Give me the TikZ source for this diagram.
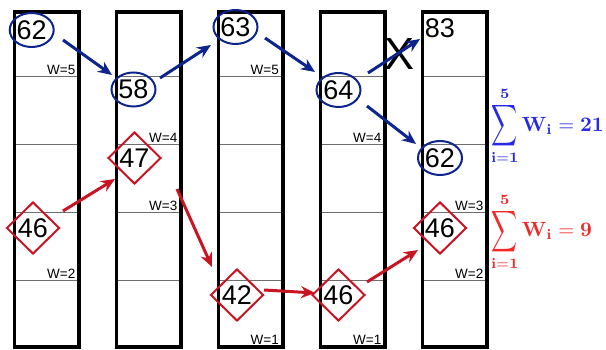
\documentclass[tikz,border=0pt]{standalone}
\usepackage[no-math]{fontspec}
\newfontfamily\arial{Liberation Sans}
\usetikzlibrary{shapes.geometric,arrows.meta,calc}
\definecolor{navy}{RGB}{12,36,140}
\definecolor{dred}{RGB}{200,20,35}
\definecolor{sumblue}{RGB}{40,40,230}
\definecolor{sumred}{RGB}{240,40,40}
\definecolor{sepgray}{RGB}{110,110,110}
\newcommand{\numfont}{\arial\fontsize{27}{30}\selectfont}
\newcommand{\tallsum}{\mathop{\vcenter{\hbox{\scalebox{0.88}[1.4]{$\displaystyle\sum$}}}}\limits}
\begin{document}
\begin{tikzpicture}[x=1pt,y=-1pt,
  colbox/.style={line width=3.5pt, draw=black},
  sepline/.style={line width=1pt, draw=sepgray},
  wlab/.style={font=\arial\fontsize{13.5}{14}\selectfont, anchor=south east, inner sep=0pt},
  bnode/.style={ellipse, draw=navy, line width=2pt, minimum width=44pt, minimum height=34pt, inner sep=0pt, font=\numfont},
  rnode/.style={diamond, aspect=1, draw=dred, line width=2pt, minimum width=53pt, minimum height=52pt, inner sep=0pt, font=\numfont},
  barrow/.style={draw=navy, line width=3pt, -{Stealth[length=14pt,width=12pt]}},
  rarrow/.style={draw=dred, line width=3pt, -{Stealth[length=14pt,width=12pt]}},
  plain/.style={inner sep=0pt, font=\numfont}
]
\useasboundingbox (0,0) rectangle (606,350);
% columns
\foreach \i in {0,...,4}{
  \pgfmathsetmacro{\xl}{14.5+102*\i}
  \pgfmathsetmacro{\xr}{\xl+64.5}
  \foreach \yy in {77,145,213,281}{
    \draw[sepline] (\xl+1.75,\yy) -- (\xr-1.75,\yy);
  }
  \draw[colbox] (\xl,12) rectangle (\xr,347);
}
% W labels
\node[wlab] (w15) at (75.5,75) {W=5};
\node[wlab] (w12) at (75.5,279) {W=2};
\node[wlab] (w24) at (177.5,143) {W=4};
\node[wlab] (w23) at (177.5,211) {W=3};
\node[wlab] (w35) at (279,75) {W=5};
\node[wlab] (w31) at (279,345) {W=1};
\node[wlab] (w44) at (381.5,143) {W=4};
\node[wlab] (w41) at (381.5,345) {W=1};
\node[wlab] (w53) at (483.5,211) {W=3};
\node[wlab] (w52) at (483.5,279) {W=2};
% nodes
\node[bnode] (e62a) at (31.7,30) {62};
\node[bnode] (e58) at (133.5,89.5) {58};
\node[bnode] (e63) at (235.5,27) {63};
\node[bnode] (e64) at (338.5,90) {64};
\node[bnode] (e62b) at (440,158) {62};
\node[rnode] (d46a) at (33,228) {46};
\node[rnode] (d47) at (134.5,158) {47};
\node[rnode] (d42) at (237,295) {42};
\node[rnode] (d46b) at (338.5,295) {46};
\node[rnode] (d46c) at (440,228) {46};
\node[plain] (t83) at (440,28) {83};
\node[inner sep=0pt, font=\arial\fontsize{45}{48}\selectfont] (xmark) at (400,54) {X};
% arrows
\draw[barrow] ($(e62a)+(31.3,10)$) -- ($(e58)+(-21.5,-14.5)$);
\draw[barrow] ($(e58)+(26.5,-11.5)$) -- ($(e63)+(-24.5,18)$);
\draw[barrow] ($(e63)+(29.5,11)$) -- ($(e64)+(-23.5,-18)$);
\draw[barrow] ($(e64)+(29.5,-17)$) -- ($(t83)+(-20,11)$);
\draw[barrow] ($(e64)+(28.5,16)$) -- ($(e62b)+(-24,-14)$);
\draw[rarrow] ($(d46a)+(30,-17)$) -- ($(d47)+(-19.5,21)$);
\draw[rarrow] ($(d47)+(42.5,31)$) -- ($(d42)+(-25,-28)$);
\draw[rarrow] ($(d42)+(27,-5)$) -- ($(d46b)+(-23.5,-2)$);
\draw[rarrow] ($(d46b)+(28.5,-13)$) -- ($(d46c)+(-22,22)$);
% sums
\node[anchor=west, inner sep=0pt, text=sumblue] (sumb) at (491,126) {\scalebox{2.06}{$\displaystyle\tallsum_{\mathbf{i=1}}^{\mathbf{5}}\mathbf{W_i}=\mathbf{21}$}};
\node[anchor=west, inner sep=0pt, text=sumred] (sumr) at (491,231.5) {\scalebox{2.06}{$\displaystyle\tallsum_{\mathbf{i=1}}^{\mathbf{5}}\mathbf{W_i}=\mathbf{9}$}};
\end{tikzpicture}
\end{document}
